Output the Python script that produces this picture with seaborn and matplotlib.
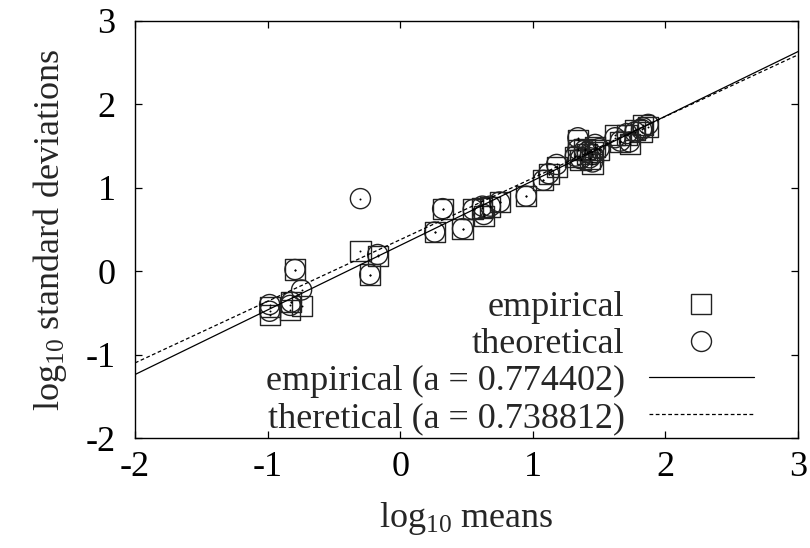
import numpy as np
import pandas as pd
import matplotlib
matplotlib.use("Agg")
import matplotlib.pyplot as plt
import seaborn as sns
from matplotlib.lines import Line2D

# ---- data ----
log_means = [-0.985, -0.985, -0.821, -0.83, -0.744, -0.794,
             -0.30, -0.17, -0.23, 0.26, 0.32, 0.47, 0.55, 0.63, 0.62, 0.68, 0.75,
             0.95, 1.08, 1.12, 1.18,
             1.34, 1.32, 1.34, 1.39, 1.41, 1.45, 1.47, 1.45, 1.43, 1.36, 1.50,
             1.62, 1.66, 1.71, 1.73, 1.77, 1.82, 1.83, 1.87]
emp_sd = [-0.43, -0.52, -0.37, -0.46, -0.42, 0.02,
          0.24, 0.18, -0.04, 0.47, 0.75, 0.51, 0.75, 0.66, 0.76, 0.77, 0.83,
          0.90, 1.09, 1.17, 1.25,
          1.57, 1.37, 1.45, 1.47, 1.41, 1.43, 1.49, 1.29, 1.35, 1.33, 1.45,
          1.63, 1.55, 1.63, 1.53, 1.69, 1.67, 1.75, 1.73]
theo_sd = [-0.40, -0.48, -0.37, -0.41, -0.225, 0.02,
           0.87, 0.20, -0.04, 0.47, 0.75, 0.51, 0.74, 0.68, 0.78, 0.78, 0.83,
           0.90, 1.09, 1.17, 1.28,
           1.60, 1.38, 1.46, 1.45, 1.43, 1.40, 1.52, 1.31, 1.36, 1.35, 1.47,
           1.60, 1.56, 1.65, 1.55, 1.67, 1.70, 1.72, 1.76]

slope_emp, icpt_emp = 0.774402, 0.31
slope_theo, icpt_theo = 0.738812, 0.378
fit_x = [-2, 3]

xticks = [-2, -1, 0, 1, 2, 3]
yticks = [-2, -1, 0, 1, 2, 3]

# ---- styling ----
sns.set_theme(style="ticks")
plt.rcParams["font.family"] = ["Liberation Serif", "DejaVu Serif"]
plt.rcParams["mathtext.fontset"] = "custom"
plt.rcParams["mathtext.rm"] = "Liberation Serif"
plt.rcParams["mathtext.it"] = "Liberation Serif:italic"
plt.rcParams["mathtext.bf"] = "Liberation Serif:bold"

FS = 26

fig = plt.figure(figsize=(8.1, 5.48), dpi=100)
ax = fig.add_axes([0.1667, 0.2007, 0.8185, 0.761])

df = pd.DataFrame({"x": log_means, "emp": emp_sd, "theo": theo_sd})
fit = pd.DataFrame({"x": fit_x})
fit["emp"] = slope_emp * fit["x"] + icpt_emp
fit["theo"] = slope_theo * fit["x"] + icpt_theo

sns.lineplot(data=fit, x="x", y="emp", ax=ax, color="black", lw=0.9)
sns.lineplot(data=fit, x="x", y="theo", ax=ax, color="black", lw=0.9,
             linestyle=(0, (3, 2)))

MS = 210
sns.scatterplot(data=df, x="x", y="emp", ax=ax, marker="s", s=MS,
                facecolor="none", edgecolor="#222222", linewidth=1.0)
sns.scatterplot(data=df, x="x", y="theo", ax=ax, marker="o", s=MS,
                facecolor="none", edgecolor="#222222", linewidth=1.0)
sns.scatterplot(data=df, x="x", y="emp", ax=ax, marker="o", s=2,
                color="black", linewidth=0)
sns.scatterplot(data=df, x="x", y="theo", ax=ax, marker="o", s=2,
                color="black", linewidth=0)

ax.set_xlim(-2, 3)
ax.set_ylim(-2, 3)
ax.set_xticks(xticks)
ax.set_yticks(yticks)
ax.set_xticklabels([str(t) for t in xticks])
ax.set_yticklabels([str(t) for t in yticks])
ax.tick_params(direction="in", length=5, width=0.9, top=True, right=True,
               labelsize=FS, pad=9, colors="black")
ax.tick_params(axis="y", pad=14)
for sp in ax.spines.values():
    sp.set_visible(True)
    sp.set_linewidth(1.0)
    sp.set_color("black")

ax.set_xlabel(r"log$_{\mathrm{10}}$ means", fontsize=FS, labelpad=12)
ax.set_ylabel(r"log$_{\mathrm{10}}$ standard deviations", fontsize=FS, labelpad=12)

handles = [
    Line2D([], [], marker="s", markersize=14.4, markerfacecolor="none",
           markeredgecolor="#222222", linestyle="none", markeredgewidth=1.0),
    Line2D([], [], marker="o", markersize=14.4, markerfacecolor="none",
           markeredgecolor="#222222", linestyle="none", markeredgewidth=1.0),
    Line2D([], [], color="black", lw=0.9),
    Line2D([], [], color="black", lw=0.9, linestyle=(0, (3, 2))),
]
labels = ["empirical", "theoretical", "empirical (a = 0.774402)",
          "theretical (a = 0.738812)"]
ax.legend(handles, labels, loc="lower right", bbox_to_anchor=(0.945, -0.01),
          frameon=False, fontsize=FS, markerfirst=False, handlelength=2.93,
          handletextpad=0.66, labelspacing=0.1, borderpad=0.2,
          borderaxespad=0.0)

fig.savefig("out.png", dpi=100)
